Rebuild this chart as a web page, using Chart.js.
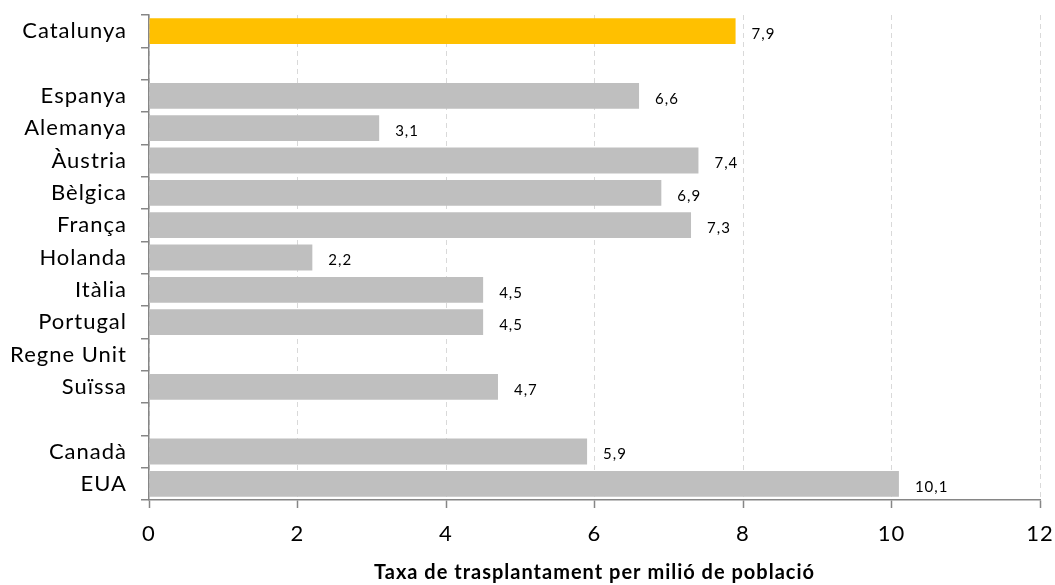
<!DOCTYPE html>
<html>
<head>
<meta charset="utf-8">
<script src="https://cdn.jsdelivr.net/npm/chart.js@4/dist/chart.umd.min.js"></script>
<style>
  html, body { margin: 0; padding: 0; background: #fff; }
  #wrap { width: 1055px; height: 585px; }
</style>
</head>
<body>
<div id="wrap"><canvas id="chart"></canvas></div>
<script>
  // categories (blank rows are spacers in the original chart)
  const paisos = ['Catalunya', '', 'Espanya', 'Alemanya', 'Àustria', 'Bèlgica', 'França',
                  'Holanda', 'Itàlia', 'Portugal', 'Regne Unit', 'Suïssa', '', 'Canadà', 'EUA'];
  // transplant rate per million inhabitants (Regne Unit has no value)
  const taxa = [7.9, null, 6.6, 3.1, 7.4, 6.9, 7.3, 2.2, 4.5, 4.5, null, 4.7, null, 5.9, 10.1];
  const xTicks = [0, 2, 4, 6, 8, 10, 12];
  const titolX = 'Taxa de trasplantament per milió de població';

  const colors = paisos.map(function (p) {
      return p === 'Catalunya' ? '#ffc000' : '#bfbfbf';
  });

  //WIDER LETTER SPACING, LIKE THE ORIGINAL
  const spacing = {
      id: 'spacing',
      beforeDraw: function (chart) {
          chart.ctx.letterSpacing = '1px';
      }
  };

  //DRAW THE VALUE NEXT TO EACH BAR
  const valueLabels = {
      id: 'valueLabels',
      afterDatasetsDraw: function (chart) {
          const ctx = chart.ctx;
          const meta = chart.getDatasetMeta(0);
          ctx.save();
          ctx.font = '15px Lato';
          ctx.fillStyle = '#000';
          ctx.textAlign = 'left';
          ctx.textBaseline = 'middle';
          meta.data.forEach(function (bar, i) {
              const v = taxa[i];
              if (v === null) return;
              ctx.fillText(v.toFixed(1).replace('.', ','), bar.x + 16, bar.y + 3);
          });
          ctx.restore();
      }
  };

  new Chart(document.getElementById('chart'), {
      type: 'bar',
      data: {
          labels: paisos,
          datasets: [{
              data: taxa,
              backgroundColor: colors,
              borderWidth: 0,
              barPercentage: 0.8,
              categoryPercentage: 1
          }]
      },
      options: {
          indexAxis: 'y',
          responsive: true,
          maintainAspectRatio: false,
          animation: false,
          layout: { padding: { left: 0, right: 15, top: 15, bottom: 0 } },
          plugins: {
              legend: { display: false },
              tooltip: { enabled: false }
          },
          scales: {
              x: {
                  min: 0,
                  max: 12,
                  afterBuildTicks: function (scale) {
                      scale.ticks = xTicks.map(function (v) { return { value: v }; });
                  },
                  afterFit: function (scale) {
                      scale.height = 85;
                      scale.paddingLeft = 0;
                      scale.paddingRight = 0;
                  },
                  grid: {
                      color: '#d9d9d9',
                      lineWidth: 1,
                      tickColor: '#868686',
                      tickLength: 8,
                      tickWidth: 1.5
                  },
                  border: { color: '#868686', width: 1.5, dash: [5, 4] },
                  ticks: {
                      font: { family: 'Lato', size: 22 },
                      color: '#000',
                      padding: 13
                  },
                  title: {
                      display: true,
                      text: titolX,
                      font: { family: 'Lato', size: 20, weight: 'bold' },
                      color: '#000',
                      padding: { top: 0, bottom: 0 }
                  }
              },
              y: {
                  afterFit: function (scale) {
                      scale.width = 149;
                      scale.paddingTop = 0;
                      scale.paddingBottom = 0;
                  },
                  grid: {
                      offset: true,
                      drawOnChartArea: false,
                      color: '#868686',
                      tickLength: 8,
                      lineWidth: 1.5
                  },
                  border: { color: '#868686', width: 1.5 },
                  ticks: {
                      autoSkip: false,
                      font: { family: 'Lato', size: 22 },
                      color: '#000',
                      padding: 14
                  }
              }
          }
      },
      plugins: [spacing, valueLabels]
  });
</script>
</body>
</html>
